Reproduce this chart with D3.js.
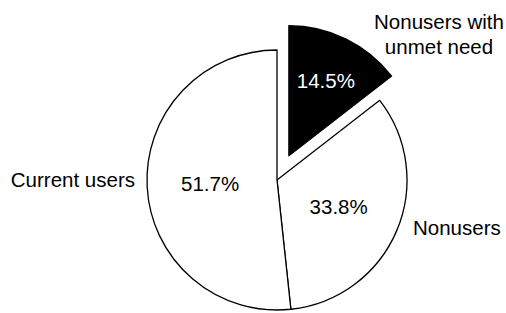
<!DOCTYPE html>
<html>
<head>
<script src="https://d3js.org/d3.v7.min.js"></script>
<style>
  body { margin: 0; background: #fff; }
  text { font-family: "Liberation Sans", Arial, sans-serif; }
</style>
</head>
<body>
<svg id="chart" width="506" height="313"></svg>
<script>
// slices, clockwise from 12 o'clock
var categories = ["Nonusers with unmet need", "Nonusers", "Current users"];
var values = [14.5, 33.8, 51.7];
var fills = ["#000", "#fff", "#fff"];
var exploded = [true, false, false];

var width = 506, height = 313;
var cx = 277, cy = 180, radius = 130;
var explodeBy = 27;
var fontSize = 20.5;

var svg = d3.select("#chart");
var g = svg.append("g").attr("transform", "translate(" + cx + "," + cy + ")");

var data = categories.map(function (c, i) {
    return { name: c, value: values[i], fill: fills[i], explode: exploded[i] };
});

var pie = d3.pie().sort(null).value(function (d) { return d.value; });
var arcs = pie(data);

var arc = d3.arc().innerRadius(0).outerRadius(radius);

function offset(d) {
    if (!d.data.explode) return [0, 0];
    var a = (d.startAngle + d.endAngle) / 2;
    return [Math.sin(a) * explodeBy, -Math.cos(a) * explodeBy];
}

var slices = g.selectAll(".slice")
    .data(arcs)
    .enter()
    .append("g")
    .attr("class", "slice")
    .attr("transform", function (d) { var o = offset(d); return "translate(" + o[0] + "," + o[1] + ")"; });

slices.append("path")
    .attr("d", arc)
    .attr("fill", function (d) { return d.data.fill; })
    .attr("stroke", "#000")
    .attr("stroke-width", 1.3)
    .attr("stroke-linejoin", "round");

// percentage labels inside slices
slices.append("text")
    .attr("transform", function (d) {
        var r = d.data.explode ? 84 : 67;
        var c = d3.arc().innerRadius(r).outerRadius(r).centroid(d);
        return "translate(" + c[0] + "," + c[1] + ")";
    })
    .attr("text-anchor", "middle")
    .attr("dy", "0.36em")
    .attr("font-size", fontSize)
    .attr("fill", function (d) { return d.data.fill === "#000" ? "#fff" : "#000"; })
    .text(function (d) { return d.data.value.toFixed(1) + "%"; });

// category labels outside the pie
var outer = [
    { lines: ["Nonusers with", "unmet need"], x: 439, y: 22, anchor: "middle" },
    { lines: ["Nonusers"], x: 413, y: 228, anchor: "start" },
    { lines: ["Current users"], x: 135, y: 180, anchor: "end" }
];

outer.forEach(function (o) {
    var t = svg.append("text")
        .attr("x", o.x)
        .attr("y", o.y)
        .attr("text-anchor", o.anchor)
        .attr("font-size", fontSize)
        .attr("fill", "#000");
    o.lines.forEach(function (l, i) {
        t.append("tspan")
            .attr("x", o.x)
            .attr("dy", i === 0 ? "0.36em" : "1.22em")
            .text(l);
    });
});
</script>
</body>
</html>
